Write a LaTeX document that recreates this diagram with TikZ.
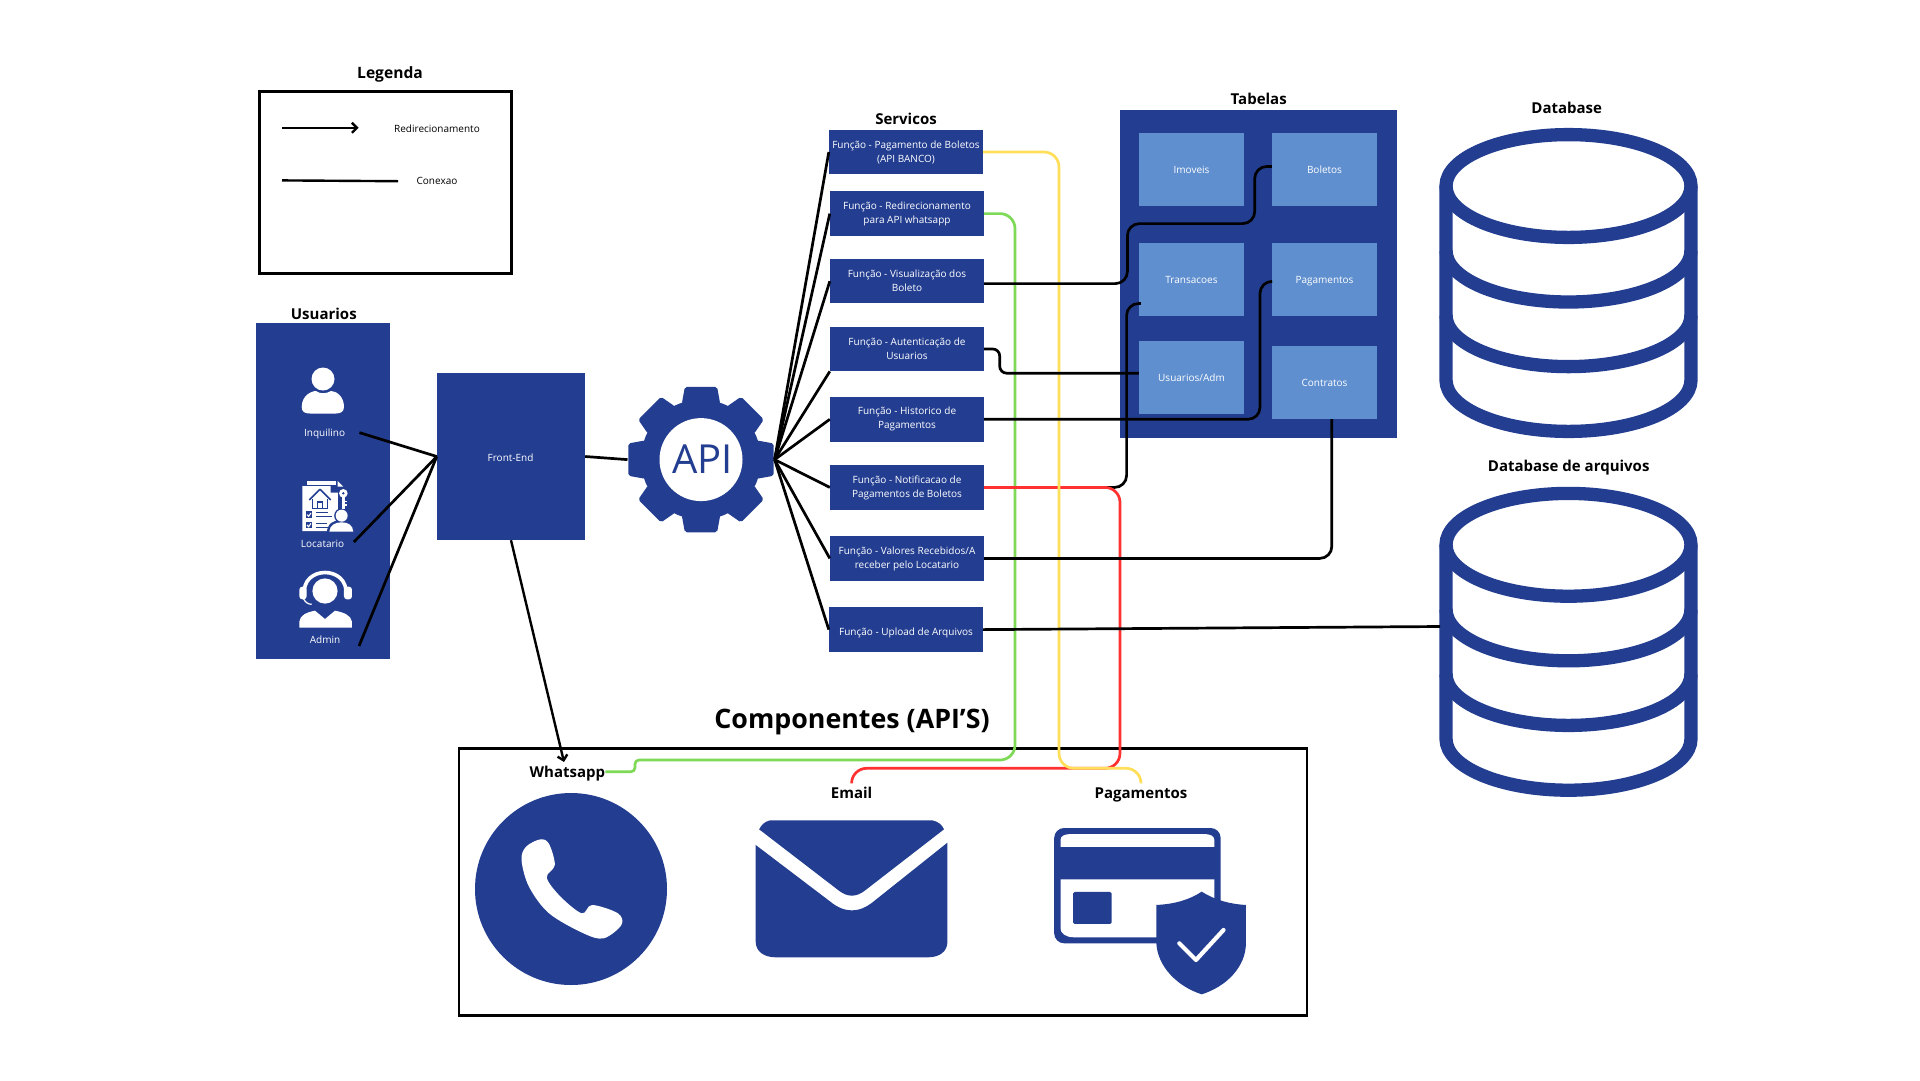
\documentclass[tikz,border=0pt]{standalone}
\usepackage{fontspec}
\setmainfont{Open Sans}
\usetikzlibrary{arrows.meta}
\definecolor{apiblue}{HTML}{233E91}
\definecolor{cellblue}{HTML}{5F8FCF}
\definecolor{cyel}{HTML}{FFDE59}
\definecolor{cgrn}{HTML}{7ED957}
\definecolor{cred}{HTML}{FF3131}
\tikzset{
  small/.style={font=\fontsize{10}{13.8}\selectfont},
  head/.style={font=\fontsize{15}{18}\selectfont\bfseries,inner sep=0pt,text=black,text height=11pt,text depth=0pt},
  lbl/.style={small,inner sep=0pt,text height=7.6pt,text depth=0pt},
  svc/.style={font=\fontsize{10}{14}\selectfont,fill=apiblue,text=white,minimum width=154pt,minimum height=44.4pt,inner sep=0pt,align=center,execute at begin node=\rule{0pt}{14.5pt}},
  cell/.style={small,fill=cellblue,text=white,minimum width=105pt,minimum height=73pt,inner sep=0pt,text height=7.6pt,text depth=0pt},
  wire/.style={draw=black,line width=2.7pt},
  blk/.style={wire,rounded corners=12pt},
  ycon/.style={draw=cyel,line width=2.7pt,rounded corners=15pt},
  gcon/.style={draw=cgrn,line width=2.7pt,rounded corners=15pt},
  rcon/.style={draw=cred,line width=2.7pt,rounded corners=15pt},
  frame/.style={draw=black,line width=2.6pt,fill=white},
  db/.style={draw=apiblue,line width=13.3pt},
}
\newcommand{\dbicon}[1]{%
  \begin{scope}[shift={(0,#1)}]
    \draw[db] (1446,186) -- (1446,380) arc[start angle=180,end angle=360,x radius=122.5pt,y radius=51.4pt] -- (1691,186);
    \draw[db] (1446,250.6) arc[start angle=180,end angle=360,x radius=122.5pt,y radius=51.4pt];
    \draw[db] (1446,315.2) arc[start angle=180,end angle=360,x radius=122.5pt,y radius=51.4pt];
    \draw[db] (1568.5,186) ellipse [x radius=122.5pt,y radius=51.4pt];
  \end{scope}}
\begin{document}
\begin{tikzpicture}[x=1pt,y=-1pt]
\useasboundingbox (0,0) rectangle (1920,1080);
\fill[white] (0,0) rectangle (1920,1080);

% Legend
\node[frame,minimum width=252pt,minimum height=182pt,inner sep=0pt] (legend) at (385.7,182.6) {};
\node[head,font=\fontsize{15.6}{18}\selectfont\bfseries] (legendT) at (390,72.7) {Legenda};
\coordinate (la1) at (282,127.8); \coordinate (la2) at (358.6,127.8);
\coordinate (lb1) at (282,180.4); \coordinate (lb2) at (398,181.2);
\node[lbl] (lredir) at (437,129) {Redirecionamento};
\node[lbl] (lconex) at (437,181) {Conexao};
\draw[line width=2.4pt,-{Straight Barb[length=5pt,width=10pt]}] (la1) -- (la2);
\draw[line width=2.4pt] (lb1) -- (lb2);

% Users panel
\node[head] (usrT) at (323.8,313.5) {Usuarios};
\node[fill=apiblue,minimum width=134pt,minimum height=336pt,inner sep=0pt] (users) at (322.9,490.6) {};
\node[lbl,text=white] (inq) at (324.6,432.8) {Inquilino};
\node[lbl,text=white] (loc) at (322.6,543.2) {Locatario};
\node[lbl,text=white] (adm) at (325,639.8) {Admin};
\coordinate (cInq) at (359.4,432.6);
\coordinate (cLoc) at (353.9,542);
\coordinate (cAdm) at (359,646);

% person icon
\fill[white] (301.7,407) .. controls (301.7,395) and (312,391) .. (316,391) .. controls (320,394) and (326,394) .. (331,391) .. controls (336,391) and (344,396) .. (344,407) .. controls (344,412) and (340,413.5) .. (336,413.5) -- (310,413.5) .. controls (305,413.5) and (301.7,412) .. (301.7,407) -- cycle;
\fill[white] (323,379) circle[radius=11.5pt];

% locatario icon
\begin{scope}[shift={(290,470)},x=0.3333pt,y=-0.3333pt]
  \fill[white] (50,33) -- (138,33) -- (138,44) -- (50,44) -- cycle;
  \fill[white] (143,33) -- (160,50) -- (143,50) -- cycle;
  \fill[white] (37,48) -- (122,48) -- (122,68) -- (145,68) -- (145,183) -- (37,183) -- cycle;
  \draw[apiblue,line width=1.6pt,line join=round] (58,90) -- (90,58) -- (122,90);
  \draw[apiblue,line width=1.5pt] (68,88) -- (68,115) -- (112,115) -- (112,88);
  \fill[apiblue] (80,92) rectangle (100,115);
  \fill[white] (85,98) rectangle (95,115);
  \fill[apiblue] (47,124) rectangle (67,144);
  \fill[apiblue] (47,155) rectangle (67,175);
  \draw[white,line width=1.1pt] (51,134) -- (56,139) -- (63,129);
  \draw[white,line width=1.1pt] (51,165) -- (56,170) -- (63,160);
  \draw[apiblue,line width=1.1pt] (78,128) -- (115,128) (78,140) -- (125,140) (78,160) -- (110,160) (78,172) -- (125,172);
  % key + person
  \fill[apiblue] (155,137) circle[radius=7.5pt];
  \fill[apiblue] (110,190) .. controls (112,160) and (130,150) .. (155,150) .. controls (180,150) and (195,165) .. (197,190) -- cycle;
  \fill[apiblue] (145,55) rectangle (175,118);
  \fill[white] (160,70) circle[radius=4.3pt];
  \fill[apiblue] (160,70) circle[radius=1.3pt];
  \fill[white] (155,78) rectangle (165,118);
  \fill[white] (165,92) rectangle (171,97);
  \fill[white] (165,102) rectangle (171,107);
  \fill[white] (155,137) circle[radius=6pt];
  \fill[white] (118,185) .. controls (120,165) and (135,157) .. (155,157) .. controls (175,157) and (188,165) .. (190,185) -- cycle;
\end{scope}

% admin icon
\begin{scope}[shift={(290,565)},x=0.3333pt,y=-0.3333pt]
  \fill[white] (105,78) circle[radius=12.6pt];
  \draw[white,line width=3.6pt] (43,90) .. controls (33,0) and (177,0) .. (168,90);
  \fill[white,rounded corners=3pt] (28,65) rectangle (50,103);
  \fill[white,rounded corners=3pt] (162,65) rectangle (186,103);
  \draw[white,line width=1.2pt] (40,100) .. controls (45,112) and (55,118) .. (65,118);
  \fill[white] (28,188) -- (28,170) .. controls (30,150) and (50,142) .. (75,137) -- (105,162) -- (135,137) .. controls (160,142) and (183,150) .. (186,170) -- (186,188) -- cycle;
\end{scope}

% Front-End
\node[lbl,fill=apiblue,text=white,minimum width=148pt,minimum height=167pt] (front) at (511,456.5) {};
\node[lbl,text=white] (frontT) at (510.6,458) {Front-End};

% Gear
\foreach \a in {0,45,...,315}{
  \fill[apiblue,rounded corners=2pt,shift={(701,459.6)}] (\a-19:59) -- (\a-12.5:74.5) -- (\a+12.5:74.5) -- (\a+19:59) -- cycle;
}
\fill[apiblue] (701,459.6) circle[radius=60pt];
\fill[white] (701,459.6) circle[radius=41.5pt];
\node[inner sep=0pt,text=apiblue,font=\fontsize{40}{48}\selectfont] (api) at (702.5,459.6) {API};
\coordinate (gearL) at (627.5,459.6);
\coordinate (gearR) at (774.6,459.6);

% Services
\node[head] (svcT) at (906,118.7) {Servicos};
\node[svc] (s1) at (906,152) {Função - Pagamento de Boletos\\(API BANCO)};
\node[svc] (s2) at (907,213.6) {Função - Redirecionamento\\para API whatsapp};
\node[svc] (s3) at (907,281.2) {Função - Visualização dos\\Boleto};
\node[svc] (s4) at (907,349) {Função - Autenticação de\\Usuarios};
\node[svc] (s5) at (907,419.3) {Função - Historico de\\Pagamentos};
\node[svc] (s6) at (907,487.4) {Função - Notificacao de\\Pagamentos de Boletos};
\node[svc] (s7) at (907,558.4) {Função - Valores Recebidos/A\\receber pelo Locatario};
\node[svc,execute at begin node=\rule{0pt}{13pt}] (s8) at (906,629.6) {Função - Upload de Arquivos};

% Tables
\node[head] (tabT) at (1258.7,98.8) {Tabelas};
\node[fill=apiblue,minimum width=277pt,minimum height=327.6pt,inner sep=0pt] (tables) at (1258.5,273.7) {};
\node[cell] (imoveis) at (1191.5,169.5) {Imoveis};
\node[cell] (boletos) at (1324.5,169.5) {Boletos};
\node[cell] (transacoes) at (1191.5,279.4) {Transacoes};
\node[cell] (pagamentos) at (1324.5,279.4) {Pagamentos};
\node[cell] (usuariosT) at (1191.5,377.7) {Usuarios/Adm};
\node[cell] (contratos) at (1324.5,382.4) {Contratos};

% Databases
\node[head] (dbT) at (1566.7,108.4) {Database};
\node[head] (dbaT) at (1568.7,465.6) {Database de arquivos};
\dbicon{0}
\dbicon{358.8}
\coordinate (dbaW) at (1440,626.5);

% Components
\node[font=\fontsize{26.8}{30}\selectfont\bfseries,inner sep=0pt] (compT) at (852,722) {Componentes (API’S)};
\node[frame,minimum width=848pt,minimum height=267pt,inner sep=0pt] (comp) at (883,882.2) {};
\node[head] (whats) at (567.4,771.7) {Whatsapp};
\node[head] (email) at (851.6,792.7) {Email};
\node[head] (pagT) at (1141,792.7) {Pagamentos};
\coordinate (whatsIn) at (564,762);
\coordinate (emailIn) at (851.6,783);
\coordinate (pagIn) at (1141,783);

% phone
\node[circle,fill=apiblue,minimum size=192pt,inner sep=0pt] (phone) at (571,889) {};
\begin{scope}[shift={(440,700)},x=0.574pt,y=-0.3333pt]
  \fill[white] plot[smooth cycle,tension=0.55] coordinates {(150,440) (175,418) (190,432) (200,495) (186,533) (210,590) (247,640) (265,615) (310,640) (316,675) (285,715) (250,700) (190,640) (155,560) (142,480)};
\end{scope}

% envelope
\begin{scope}[shift={(440,700)},x=0.574pt,y=-0.3333pt]
  \fill[apiblue] (575,361) -- (858,361) .. controls (868,365) and (875,375) .. (878,388) -- (740,572) .. controls (725,592) and (710,592) .. (695,572) -- (556,388) .. controls (560,375) and (565,365) .. (575,361) -- cycle;
  \fill[apiblue] (550,435) -- (680,605) .. controls (705,640) and (730,640) .. (755,605) -- (884,428) -- (884,725) .. controls (884,755) and (870,772) .. (850,772) -- (585,772) .. controls (565,772) and (550,755) .. (550,725) -- cycle;
\end{scope}

% card and shield
\begin{scope}[shift={(440,700)},x=0.574pt,y=-0.3333pt]
  \fill[apiblue,rounded corners=10pt] (1070,384) rectangle (1360,730);
  \fill[white] (1081,441) -- (1081,420) .. controls (1081,408) and (1088,402) .. (1100,402) -- (1330,402) .. controls (1342,402) and (1349,408) .. (1349,420) -- (1349,441) -- cycle;
  \fill[white] (1081,538) -- (1349,538) -- (1349,712) -- (1105,712) .. controls (1090,712) and (1081,700) .. (1081,685) -- cycle;
  \fill[apiblue,rounded corners=1.5pt] (1103,576) rectangle (1170,672);
  \fill[apiblue] (1327,575) .. controls (1305,600) and (1280,612) .. (1248,615) -- (1248,730) .. controls (1250,800) and (1285,860) .. (1327,883) .. controls (1370,860) and (1404,800) .. (1404,730) -- (1404,615) .. controls (1375,612) and (1350,600) .. (1327,575) -- cycle;
  \draw[white,line width=4.2pt,line cap=round,line join=round] (1288,730) -- (1317,780) -- (1365,690);
\end{scope}

% Connectors: users to front
\draw[wire] (cInq) -- (front.west);
\draw[wire] (cLoc) -- (front.west);
\draw[wire] (cAdm) -- (front.west);
\draw[wire] (front.east) -- (gearL);
\foreach \n in {s1.west,s2.west,s3.west,s4.south west,s5.west,s6.west,s7.west,s8.west}{
  \draw[wire] (gearR) -- (\n);
}
\draw[wire,line width=2.4pt,-{Straight Barb[length=5pt,width=10pt]}] (front.south) -- (whatsIn);

% Coloured and black connectors
\draw[blk] (s6.east) -- (1126.6,487.4) -- (1126.6,303.5) -- (1140.8,303.5);
\draw[gcon,rounded corners=4pt] (whats.east) -- (635,771.7) -- (635,760) [rounded corners=15pt] -- (1015,760) -- (1015,213.6) -- (s2.east);
\draw[rcon] (s6.east) -- (1120,487.4) -- (1120,768.3) -- (851.6,768.3) -- (emailIn);
\draw[ycon] (s1.east) -- (1059,152) -- (1059,768.3) -- (1141,768.3) -- (pagIn);
\draw[blk] ([yshift=-2.4pt]s3.east) -- (1127.4,283.6) -- (1127.4,223.6) -- (1254.7,223.6) -- (1254.7,166.5) -- ([yshift=3pt]boletos.west);
\draw[blk,rounded corners=7pt] (s4.east) -- (999.7,349) -- (999.7,373.2) -- ([yshift=4.5pt]usuariosT.west);
\draw[blk] (s5.east) -- (1260,419.3) -- (1260,281.4) -- ([yshift=-2pt]pagamentos.west);
\draw[blk] (s7.east) -- (1331.8,558.4) -- ([xshift=7.3pt]contratos.south);
\draw[wire] (s8.east) -- (dbaW);
\end{tikzpicture}
\end{document}
